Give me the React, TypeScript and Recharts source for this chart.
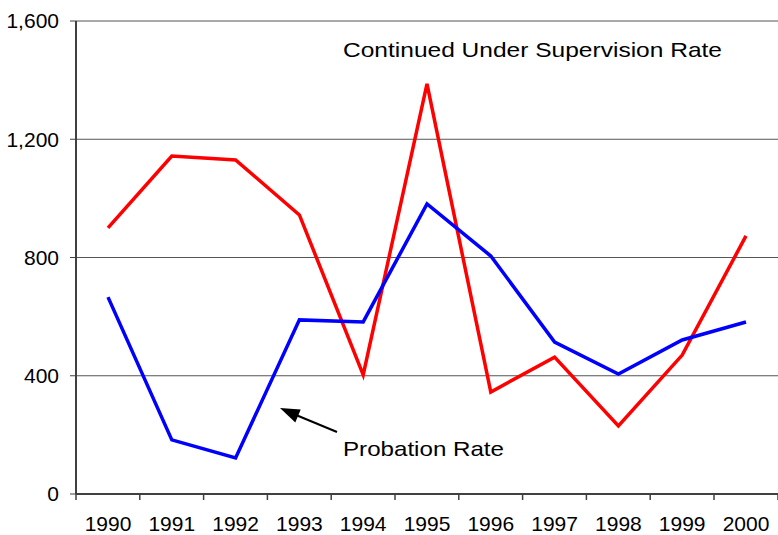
import { LineChart, Line, XAxis, YAxis, CartesianGrid } from 'recharts'

const years = ['1990', '1991', '1992', '1993', '1994', '1995', '1996', '1997', '1998', '1999', '2000']
const continuedRate = [900, 1143, 1130, 944, 403, 1387, 345, 463, 230, 470, 873]
const probationRate = [666, 183, 122, 589, 582, 981, 805, 514, 406, 521, 582]
const yTicks = [0, 400, 800, 1200, 1600]

const data = years.map((year, i) => ({
  year,
  continued: continuedRate[i],
  probation: probationRate[i],
}))

const FONT = '"Liberation Sans", Arial, sans-serif'
const HALF_BAND = 32

const YearTick = (props: any) => {
  const { x, y, payload, index } = props
  const axisY = y - 22
  return (
    <g>
      <line x1={x - HALF_BAND} x2={x - HALF_BAND} y1={axisY} y2={axisY + 6} stroke="#404040" strokeWidth={1.5} />
      {index === years.length - 1 && (
        <line x1={x + HALF_BAND} x2={x + HALF_BAND} y1={axisY} y2={axisY + 6} stroke="#404040" strokeWidth={1.5} />
      )}
      <text x={x} y={y} dy="0.71em" textAnchor="middle" fill="#000" fontSize={21} fontFamily={FONT}>
        {payload.value}
      </text>
    </g>
  )
}

export default function App() {
  return (
    <div style={{ position: 'absolute', left: 0, top: 0, background: '#fff' }}>
      <LineChart width={778} height={535} data={data} margin={{ top: 21, right: 0, left: 0, bottom: 0 }}>
        <CartesianGrid vertical={false} stroke="#555" strokeWidth={1} />
        <XAxis
          dataKey="year"
          height={41}
          padding={{ left: HALF_BAND, right: HALF_BAND }}
          axisLine={{ stroke: '#404040', strokeWidth: 2 }}
          tickLine={false}
          tickSize={0}
          tickMargin={22}
          interval={0}
          tick={<YearTick />}
        />
        <YAxis
          width={76}
          domain={[0, 1600]}
          ticks={yTicks}
          axisLine={{ stroke: '#404040', strokeWidth: 2 }}
          tickLine={{ stroke: '#404040' }}
          tickSize={6}
          tickMargin={11}
          tickFormatter={(v: number) => v.toLocaleString('en-US')}
          tick={{ fill: '#000', fontSize: 21, fontFamily: FONT }}
        />
        <Line
          dataKey="continued"
          type="linear"
          stroke="#ff0000"
          strokeWidth={3.5}
          dot={false}
          activeDot={false}
          isAnimationActive={false}
        />
        <Line
          dataKey="probation"
          type="linear"
          stroke="#0000ff"
          strokeWidth={3.5}
          dot={false}
          activeDot={false}
          isAnimationActive={false}
        />
        <g fontFamily={FONT} fontSize={21} fill="#000">
          <text x={343} y={57} textLength={379} lengthAdjust="spacingAndGlyphs">
            Continued Under Supervision Rate
          </text>
          <text x={343} y={456} textLength={161} lengthAdjust="spacingAndGlyphs">
            Probation Rate
          </text>
          {/* arrow pointing at the probation line */}
          <line x1={337} y1={432} x2={296} y2={415} stroke="#000" strokeWidth={2} />
          <polygon points="280,408 295.3,422.4 300.7,409.6" fill="#000" />
        </g>
      </LineChart>
    </div>
  )
}
